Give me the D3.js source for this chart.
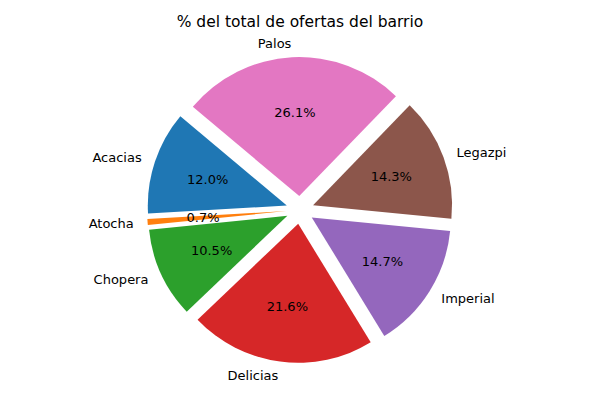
<!DOCTYPE html>
<html>
<head>
<meta charset="utf-8">
<script src="https://cdn.jsdelivr.net/npm/d3@7"></script>
<style>body{margin:0;background:#fff}</style>
</head>
<body>
<svg id="chart" width="600" height="400"></svg>
<script>
const barrios = ["Acacias", "Atocha", "Chopera", "Delicias", "Imperial", "Legazpi", "Palos"];
const shares = [12.0, 0.7, 10.5, 21.6, 14.7, 14.3, 26.1];
const colors = ["#1f77b4", "#ff7f0e", "#2ca02c", "#d62728", "#9467bd", "#8c564b", "#e377c2"];

const width = 600, height = 400;
const cx = 300, cy = 210, r = 139;
const explode = 0.1 * r;
const startDeg = 140; // matplotlib-style startangle, counterclockwise
const a0 = Math.PI / 2 - startDeg * Math.PI / 180;

const svg = d3.select("#chart");
const font = "DejaVu Sans, sans-serif";

const arc = d3.arc().innerRadius(0).outerRadius(r);
const arcs = d3.pie().sort(null).value(d => d.v)
  .startAngle(a0)
  .endAngle(a0 - 2 * Math.PI)(shares.map((v, i) => ({ v, i })));

const g = svg.append("g").attr("transform", `translate(${cx},${cy})`);

arcs.forEach(d => {
  const a = (d.startAngle + d.endAngle) / 2;
  const ox = Math.sin(a) * explode, oy = -Math.cos(a) * explode;
  const w = g.append("g").attr("transform", `translate(${ox},${oy})`);
  w.append("path").attr("d", arc(d)).attr("fill", colors[d.data.i]);
  const lx = Math.sin(a) * r * 1.1, ly = -Math.cos(a) * r * 1.1;
  w.append("text")
    .attr("x", lx).attr("y", ly).attr("dy", "0.35em")
    .attr("text-anchor", lx > 0 ? "start" : "end")
    .style("font-family", font).style("font-size", "13px")
    .text(barrios[d.data.i]);
  w.append("text")
    .attr("x", Math.sin(a) * r * 0.6).attr("y", -Math.cos(a) * r * 0.6).attr("dy", "0.35em")
    .attr("text-anchor", "middle")
    .style("font-family", font).style("font-size", "13px")
    .text(d.data.v.toFixed(1) + "%");
});

svg.append("text")
  .attr("x", width / 2).attr("y", 27)
  .attr("text-anchor", "middle")
  .style("font-family", font).style("font-size", "15.5px")
  .text("% del total de ofertas del barrio");
</script>
</body>
</html>
